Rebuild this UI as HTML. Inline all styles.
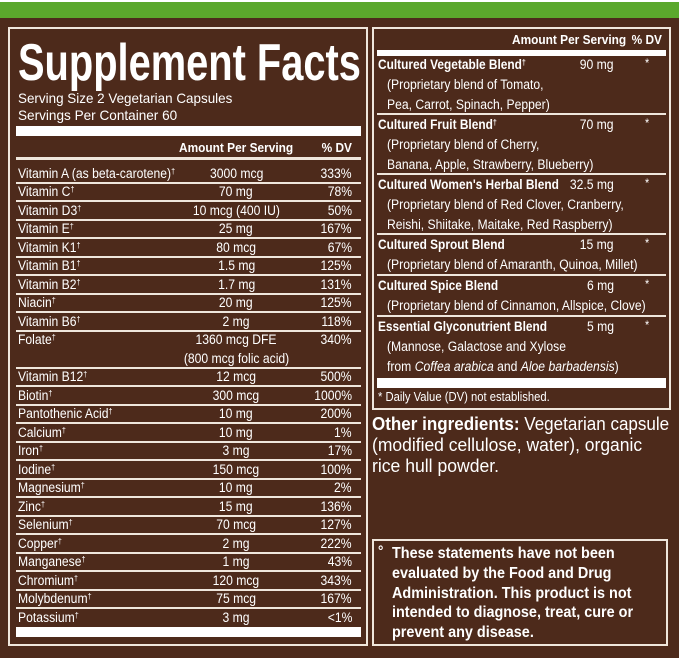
<!DOCTYPE html>
<html><head><meta charset="utf-8"><style>
body{margin:0;width:679px;height:658px;overflow:hidden;background:#4d2a1b;font-family:"Liberation Sans",sans-serif;color:#fff;position:relative}
.t{position:absolute;white-space:nowrap;line-height:1;transform-origin:left center}
.r{transform-origin:right center}
.c{transform-origin:center center}
.box{position:absolute;border:2px solid #efe6dc;box-sizing:border-box}
.bar{position:absolute;background:#fff}
.ln{position:absolute;background:#efe6dc;height:2px}
sup{font-size:8px;line-height:0;vertical-align:4px}
b{font-weight:bold}
</style></head><body>
<div style="position:absolute;left:0;top:0;width:679px;height:2px;background:#fff"></div>
<div style="position:absolute;left:0;top:2px;width:679px;height:16px;background:#5ba82c"></div>
<div class="box" style="left:8px;top:27px;width:360px;height:619px"></div>
<div class="box" style="left:372px;top:27px;width:299px;height:383px"></div>
<div class="box" style="left:372px;top:539px;width:296px;height:107px"></div>
<div id="root"></div>
<script>
const nutrients=["Vitamin A (as beta-carotene)†","Vitamin C†","Vitamin D3†","Vitamin E†","Vitamin K1†","Vitamin B1†","Vitamin B2†","Niacin†","Vitamin B6†","Folate†","Vitamin B12†","Biotin†","Pantothenic Acid†","Calcium†","Iron†","Iodine†","Magnesium†","Zinc†","Selenium†","Copper†","Manganese†","Chromium†","Molybdenum†","Potassium†"];
const amounts=["3000 mcg","70 mg","10 mcg (400 IU)","25 mg","80 mcg","1.5 mg","1.7 mg","20 mg","2 mg","1360 mcg DFE","12 mcg","300 mcg","10 mg","10 mg","3 mg","150 mcg","10 mg","15 mg","70 mcg","2 mg","1 mg","120 mcg","75 mcg","3 mg"];
const dvs=["333%","78%","50%","167%","67%","125%","131%","125%","118%","340%","500%","1000%","200%","1%","17%","100%","2%","136%","127%","222%","43%","343%","167%","<1%"];
const blendNames=["Cultured Vegetable Blend†","Cultured Fruit Blend†","Cultured Women's Herbal Blend","Cultured Sprout Blend","Cultured Spice Blend","Essential Glyconutrient Blend"];
const blendAmounts=["90 mg","70 mg","32.5 mg","15 mg","6 mg","5 mg"];
const blendDesc=[["(Proprietary blend of Tomato,","Pea, Carrot, Spinach, Pepper)"],["(Proprietary blend of Cherry,","Banana, Apple, Strawberry, Blueberry)"],["(Proprietary blend of Red Clover, Cranberry,","Reishi, Shiitake, Maitake, Red Raspberry)"],["(Proprietary blend of Amaranth, Quinoa, Millet)"],["(Proprietary blend of Cinnamon, Allspice, Clove)"],["(Mannose, Galactose and Xylose","from <i>Coffea arabica</i> and <i>Aloe barbadensis</i>)"]];
const root=document.getElementById('root');
function T(html,x,y,size,opts){
  opts=opts||{};
  const d=document.createElement('div');
  d.className='t'+(opts.align==='r'?' r':opts.align==='c'?' c':'');
  d.innerHTML=html;
  d.style.fontSize=size+'px';
  if(opts.bold)d.style.fontWeight='bold';
  
  
  root.appendChild(d);
  const w=d.offsetWidth;
  const s=opts.scale||0.9;
  let left=x;
  if(opts.align==='r')left=x-w;
  if(opts.align==='c')left=x-w/2;
  d.style.left=left+'px';
  d.style.top=(y-size/2)+'px';
  if(opts.width)d.style.transform='scaleX('+(opts.width/w)+')';
  else d.style.transform='scaleX('+s+')';
  return d;
}
function R(cls,x,y,w,h,name){
  const d=document.createElement('div');d.className=cls;
  d.style.left=x+'px';d.style.top=y+'px';d.style.width=w+'px';d.style.height=h+'px';
  
  
  root.appendChild(d);
}
// left panel
T('Supplement Facts',18,63,52,{bold:true,width:343,name:'title'});
T('Serving Size 2 Vegetarian Capsules',18,98,14,{width:214,name:'serving-size'});
T('Servings Per Container 60',18,115,14,{width:159,name:'servings-per-container'});
R('bar',16,126,345,10,'thick-divider-top');
T('Amount Per Serving',236,148,12.5,{bold:true,align:'c',scale:0.95,name:'amount-header'});
T('% DV',352,148,12.5,{bold:true,align:'r',scale:0.95,name:'dv-header'});
R('ln',16,157,345,3,'header-divider');
let y=164;const rh=18.5;
for(let i=0;i<nutrients.length;i++){
  const lines=nutrients[i]==='Folate†'?2:1;
  const cy=y+rh/2;
  T(nutrients[i].replace('†','<sup>†</sup>'),18,cy,13.5,{name:'nutrient-name'});
  T(amounts[i],236,cy,13.5,{align:'c',name:'nutrient-amount'});
  T(dvs[i],352,cy,13.5,{align:'r',name:'nutrient-dv'});
  if(lines===2)T('(800 mcg folic acid)',236,cy+rh,13.5,{align:'c',name:'folate-note'});
  y+=rh*lines;
  if(i<nutrients.length-1)R('ln',16,y-1,345,2,'row-divider');
}
R('bar',16,627,345,10,'thick-divider-bottom');
// right panel
T('Amount Per Serving',626,40,12.5,{bold:true,align:'r',scale:0.95,name:'blend-amount-header'});
T('% DV',662,40,12.5,{bold:true,align:'r',scale:0.95,name:'blend-dv-header'});
R('bar',377,50,289,6,'blend-header-bar');
const starts=[65,125,185,245,286,327];
for(let i=0;i<blendNames.length;i++){
  const by=starts[i];
  T(blendNames[i].replace('†','<sup>†</sup>'),378,by,13.5,{bold:true,scale:0.88,name:'blend-name'});
  T(blendAmounts[i],614,by,13.5,{align:'r',name:'blend-amount'});
  T('*',645,by-2,12,{name:'blend-dv'});
  blendDesc[i].forEach((l,k)=>T(l,387,by+20+k*19.5,13.5,{name:'blend-description'}));
  if(i<blendNames.length-1)R('ln',377,starts[i+1]-12,289,2,'blend-divider');
}
R('bar',377,378,289,10,'blend-bottom-bar');
T('* Daily Value (DV) not established.',378,397,12.5,{name:'dv-footnote'});
T('<b>Other ingredients:</b> Vegetarian capsule',372,424,18,{width:297,name:'other-ingredients'});
T('(modified cellulose, water), organic',372,445,18,{width:270,name:'other-ingredients-line2'});
T('rice hull powder.',372,466,18,{width:127,name:'other-ingredients-line3'});
T('°',378,551,15,{bold:true,name:'disclaimer-bullet'});
const disc=['These statements have not been','evaluated by the Food and Drug','Administration. This product is not','intended to diagnose, treat, cure or','prevent any disease.'];
disc.forEach((l,k)=>T(l,392,554+k*19.7,15.5,{bold:true,scale:0.93,name:'disclaimer-text'}));
</script>
</body></html>
